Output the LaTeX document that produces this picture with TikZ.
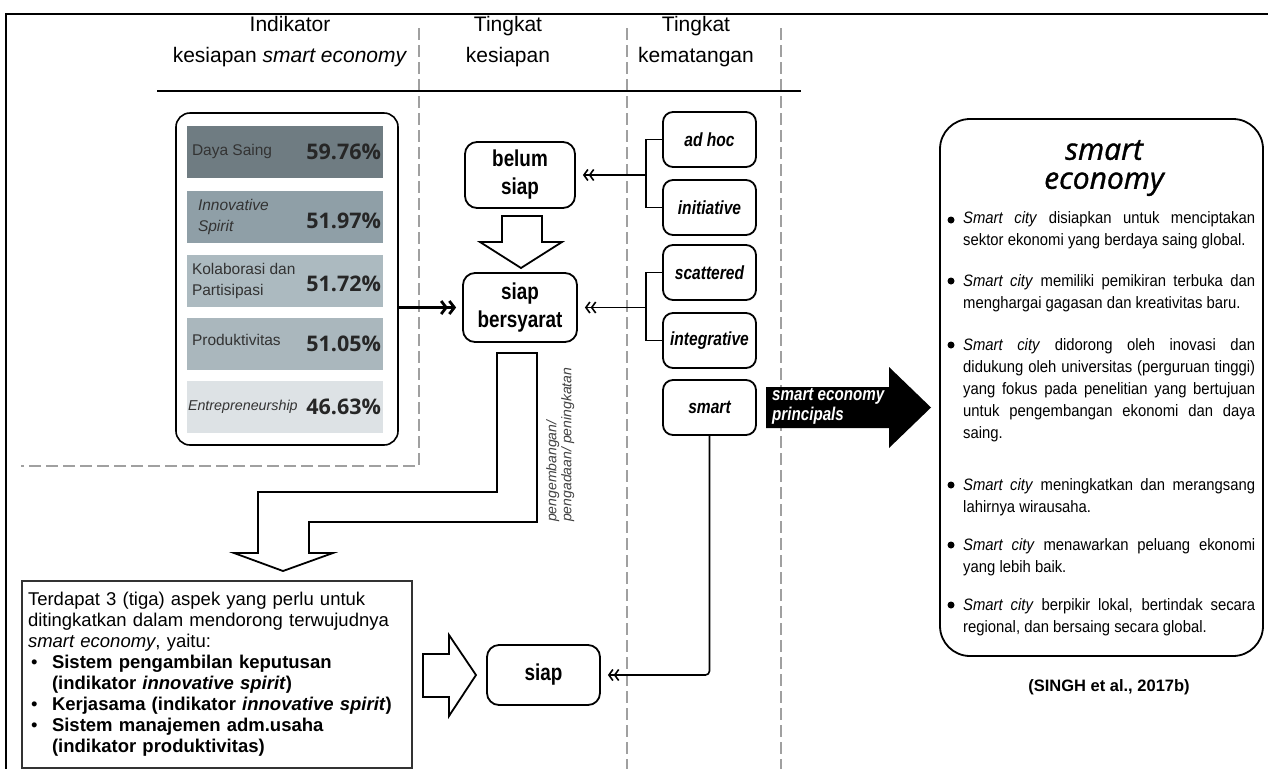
\documentclass[tikz,border=0pt]{standalone}
\usepackage{fontspec}
\setmainfont{Liberation Sans}
\newfontfamily\narrowfont{Liberation Sans}[FakeStretch=0.82]
\newfontfamily\bodyfont{Liberation Sans}[FakeStretch=0.9]
\newfontfamily\opensans{Open Sans}
\newfontfamily\titlefont{Open Sans}[FakeBold=1.2]
\usetikzlibrary{arrows.meta}
\definecolor{rowA}{HTML}{6F7C82}
\definecolor{rowB}{HTML}{8F9FA7}
\definecolor{rowC}{HTML}{ACBAC0}
\definecolor{rowD}{HTML}{AAB7BD}
\definecolor{rowE}{HTML}{DDE2E5}
\definecolor{dashgray}{HTML}{A0A0A0}
\hyphenpenalty=10000
\exhyphenpenalty=10000
\begin{document}
\begin{tikzpicture}[x=1pt,y=-1pt,
	gap/.style={draw=dashgray, line width=2.8pt, dash pattern=on 12pt off 5pt},
	hdr/.style={align=center, inner sep=0pt, font=\fontsize{21}{31}\selectfont},
	stage/.style={draw, rounded corners=12pt, line width=1.8pt, align=center, inner sep=0pt,
		font=\narrowfont\bfseries\fontsize{23}{28}\selectfont},
	level/.style={draw, rounded corners=10pt, line width=1.8pt, minimum width=93pt, minimum height=55pt,
		inner sep=0pt, font=\narrowfont\bfseries\itshape\fontsize{19}{22}\selectfont},
	bar/.style={minimum width=196pt, minimum height=52pt, inner sep=0pt},
	barlabel/.style={anchor=west, inner sep=0pt, align=left, text=black!80, font=\fontsize{15.5}{21}\selectfont},
	score/.style={anchor=east, inner sep=0pt, text=black!85, font=\opensans\bfseries\fontsize{21.5}{24}\selectfont},
	hollow/.style={draw, line width=1.8pt, fill=white, line join=miter},
	pair/.style={line width=1.6pt, -{Straight Barb[length=4pt,width=11pt]Straight Barb[length=4pt,width=11pt]}, shorten >=7pt},
	push/.style={line width=2.8pt, -{Straight Barb[length=5pt,width=13pt]Straight Barb[length=5pt,width=13pt]}, shorten >=6pt},
	item/.style={anchor=base west, inner sep=0pt, text width=292pt, align=justify, font=\bodyfont\fontsize{16.5}{22}\selectfont},
	dot/.style={circle, fill, inner sep=0pt, minimum size=7pt}]
	\useasboundingbox (0,0) rectangle (1268,769);
	% frame and column guides
	\draw[line width=1.2pt] (1268,14) -- (6,14) -- (6,769);
	\draw[gap] (419,28) -- (419,466) -- (21,466);
	\draw[gap] (627,28) -- (627,769);
	\draw[gap] (781,28) -- (781,769);
	\node[hdr] (h1) at (290,42) {Indikator\\kesiapan \textit{smart economy}};
	\node[hdr] (h2) at (508,42) {Tingkat\\kesiapan};
	\node[hdr] (h3) at (696,42) {Tingkat\\kematangan};
	\draw[line width=1.5pt] (157,91) -- (801,91);
	% indicators
	\node[draw, rounded corners=14pt, line width=1.6pt, minimum width=222pt, minimum height=332pt] (panel) at (287,279) {};
	\node[bar, fill=rowA] (r1) at (285,151.5) {};
	\node[bar, fill=rowB] (r2) at (285,216.5) {};
	\node[bar, fill=rowC] (r3) at (285,280.5) {};
	\node[bar, fill=rowD] (r4) at (285,344) {};
	\node[bar, fill=rowE] (r5) at (285,406.5) {};
	\node[barlabel] (l1) at ([xshift=5pt]r1.west) {Daya Saing};
	\node[barlabel] (l2) at ([xshift=11pt]r2.west) {\textit{Innovative}\\\textit{Spirit}};
	\node[barlabel] (l3) at ([xshift=5pt]r3.west) {Kolaborasi dan\\Partisipasi};
	\node[barlabel] (l4) at ([xshift=5pt,yshift=4pt]r4.west) {Produktivitas};
	\node[barlabel, font=\fontsize{14.3}{18}\selectfont] (l5) at ([xshift=1pt]r5.west) {\textit{Entrepreneurship}};
	\node[score] (s1) at ([xshift=-2pt]r1.east) {59.76\%};
	\node[score] (s2) at ([xshift=-2pt,yshift=-4pt]r2.east) {51.97\%};
	\node[score] (s3) at ([xshift=-2pt,yshift=-3pt]r3.east) {51.72\%};
	\node[score] (s4) at ([xshift=-2pt]r4.east) {51.05\%};
	\node[score] (s5) at ([xshift=-2pt]r5.east) {46.63\%};
	% readiness
	\node[stage, minimum width=110pt, minimum height=66pt] (belum) at (520,175) {belum\\siap};
	\node[stage, minimum width=114pt, minimum height=69pt] (sb) at (520,307.5) {siap\\bersyarat};
	\node[stage, minimum width=113pt, minimum height=60pt] (siap) at (543.5,675) {siap};
	\draw[hollow] (502,216) -- (542,216) -- (542,242) -- (562,242) -- (521,268) -- (480,242) -- (502,242) -- cycle;
	\draw[hollow] (497,353) -- (537,353) -- (537,522) -- (309,522) -- (309,553) -- (333,553) -- (283,571)
		-- (234,553) -- (258,553) -- (258,492) -- (497,492) -- cycle;
	\node[rotate=90, anchor=north west, align=left, inner sep=0pt, text=black!75,
		font=\itshape\fontsize{14}{15}\selectfont] (dev) at (546,522) {pengembangan/\\pengadaan/ peningkatan};
	\draw[push] (sb.west -| panel.east) -- (sb.west);
	% maturity
	\node[level] (adhoc) at (709.5,139.5) {ad hoc};
	\node[level] (init) at (709.5,207.5) {initiative};
	\node[level] (scat) at (709.5,272.5) {scattered};
	\node[level] (integ) at (709.5,340.5) {integrative};
	\node[level] (smart) at (709.5,407.5) {smart};
	\coordinate (j1) at ([xshift=70pt]belum.east);
	\coordinate (j2) at ([xshift=68pt]sb.east);
	\draw[line width=1.6pt] (adhoc.west) -| (j1) |- (init.west);
	\draw[line width=1.6pt] (scat.west) -| (j2) |- (integ.west);
	\draw[pair] (j1) -- (belum.east);
	\draw[pair] (j2) -- (sb.east);
	\draw[pair, rounded corners=4pt] (smart.south) |- (siap.east);
	% aspects
	\node[draw=black!80, line width=2pt, anchor=north west, minimum width=390pt, minimum height=187pt,
		text width=378pt, inner xsep=6pt, inner ysep=4pt, align=left,
		font=\fontsize{18.5}{21}\selectfont] (aspek) at (21,580) {Terdapat 3 (tiga) aspek yang perlu untuk\\
		ditingkatkan dalam mendorong terwujudnya\\
		\textit{smart economy}, yaitu:\\
		\makebox[24pt][l]{\hspace{3pt}•}\textbf{Sistem pengambilan keputusan}\\
		\hspace*{24pt}\textbf{(indikator \textit{innovative spirit})}\\
		\makebox[24pt][l]{\hspace{3pt}•}\textbf{Kerjasama (indikator \textit{innovative spirit})}\\
		\makebox[24pt][l]{\hspace{3pt}•}\textbf{Sistem manajemen adm.usaha}\\
		\hspace*{24pt}\textbf{(indikator produktivitas)}};
	\draw[hollow] (423,654) -- (449,654) -- (449,635) -- (476,675) -- (449,716) -- (449,697) -- (423,697) -- cycle;
	% principles
	\fill (766,387) -- (889,387) -- (889,367) -- (931,407.5) -- (889,448) -- (889,428) -- (766,428) -- cycle;
	\node[anchor=west, text=white, align=left, inner sep=0pt,
		font=\narrowfont\bfseries\itshape\fontsize{18.5}{20}\selectfont] (principle) at (772,406) {smart economy\\principals};
	\node[draw, rounded corners=30pt, line width=1.8pt, minimum width=323pt, minimum height=537pt] (ecobox) at (1101.5,387.5) {};
	\node[align=center, inner sep=0pt, font=\titlefont\itshape\fontsize{30}{29}\selectfont] (ecotitle) at (1104,168) {smart\\economy};
	\node[item] (p1) at (963,223) {\textit{Smart city} disiapkan untuk menciptakan\linebreak sektor ekonomi yang berdaya saing global.};
	\node[item] (p2) at (963,286) {\textit{Smart city} memiliki pemikiran terbuka dan\linebreak menghargai gagasan dan kreativitas baru.};
	\node[item] (p3) at (963,350) {\textit{Smart city} didorong oleh inovasi dan\linebreak didukung oleh universitas (perguruan tinggi)\linebreak yang fokus pada penelitian yang bertujuan\linebreak untuk pengembangan ekonomi dan daya\linebreak saing.};
	\node[item] (p4) at (963,490) {\textit{Smart city} meningkatkan dan merangsang\linebreak lahirnya wirausaha.};
	\node[item] (p5) at (963,550) {\textit{Smart city} menawarkan peluang ekonomi\linebreak yang lebih baik.};
	\node[item] (p6) at (963,610) {\textit{Smart city} berpikir lokal, bertindak secara\linebreak regional, dan bersaing secara global.};
	\node[dot] (d1) at ([xshift=-12pt,yshift=3pt]p1.base west) {};
	\node[dot] (d2) at ([xshift=-12pt,yshift=5pt]p2.base west) {};
	\node[dot] (d3) at ([xshift=-12pt,yshift=5pt]p3.base west) {};
	\node[dot] (d4) at ([xshift=-12pt,yshift=5pt]p4.base west) {};
	\node[dot] (d5) at ([xshift=-12pt,yshift=5pt]p5.base west) {};
	\node[dot] (d6) at ([xshift=-12pt,yshift=5pt]p6.base west) {};
	\node[font=\bfseries\fontsize{16.5}{20}\selectfont] (src) at (1109,687) {(SINGH et al., 2017b)};
\end{tikzpicture}
\end{document}
